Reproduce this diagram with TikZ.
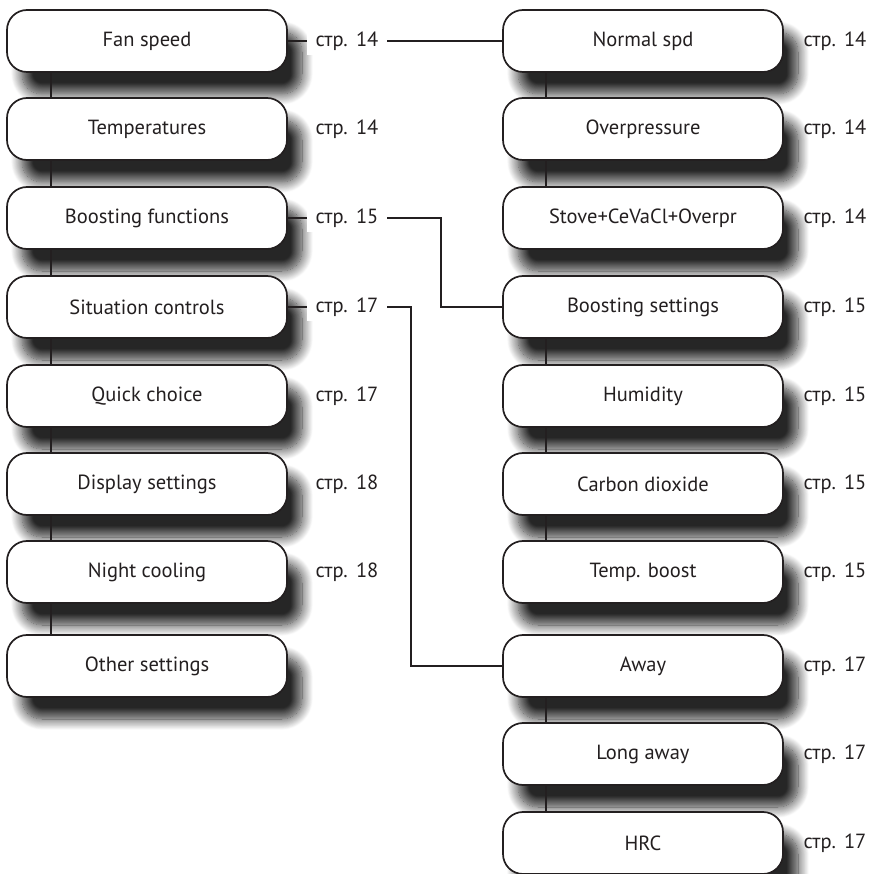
\documentclass[tikz,border=0pt]{standalone}
\usepackage{fontspec}
\setmainfont{PT Sans}
\usetikzlibrary{shadows.blur}
\definecolor{ink}{HTML}{231F20}
\tikzset{
  menubox/.style={rectangle, rounded corners=20pt, draw=ink, line width=1.7pt,
    fill=white, minimum width=280pt, minimum height=62pt, inner sep=0pt,
    font=\fontsize{20.5}{22}\selectfont, text=ink,
    blur shadow={shadow xshift=15pt, shadow yshift=-22pt, shadow blur radius=11pt,
      shadow opacity=85, shadow blur steps=16}},
  link/.style={draw=ink, line width=1.6pt},
  pageref/.style={font=\fontsize{20.5}{22}\selectfont, text=ink, inner sep=0pt,
    minimum height=28pt, minimum width=80pt},
  pagecut/.style={pageref, fill=white}
}
\newcommand{\pg}[1]{стр.\hspace{0.4em}#1}
\begin{document}
\begin{tikzpicture}[x=1pt,y=-1pt]
\useasboundingbox (0,0) rectangle (876,874);

% left column: main menu
\node[menubox] (fan)  at (147,41)  {Fan speed};
\node[menubox] (temp) at (147,129) {Temperatures};
\node[menubox] (bfun) at (147,218) {Boosting functions};
\node[menubox] (sitc) at (147,307) {Situation controls};
\node[menubox] (quick) at (147,396) {Quick choice};
\node[menubox] (disp) at (147,484) {Display settings};
\node[menubox] (night) at (147,572) {Night cooling};
\node[menubox] (other) at (147,666) {Other settings};

% right column: submenus
\node[menubox] (norm) at (643,41)  {Normal spd};
\node[menubox] (overp) at (643,129) {Overpressure};
\node[menubox] (stove) at (643,218) {Stove+CeVaCl+Overpr};
\node[menubox] (bset) at (643,307) {Boosting settings};
\node[menubox] (hum)  at (643,396) {Humidity};
\node[menubox] (co2)  at (643,484) {Carbon dioxide};
\node[menubox] (tboost) at (643,572) {Temp. boost};
\node[menubox] (away) at (643,666) {Away};
\node[menubox] (laway) at (643,754) {Long away};
\node[menubox] (hrc)  at (643,843) {HRC};

% vertical chains
\foreach \a/\b in {fan/temp,temp/bfun,bfun/sitc,sitc/quick,quick/disp,disp/night,night/other}
  \draw[link] ([xshift=-96pt]\a.south) -- ([xshift=-96pt]\b.north);
\foreach \a/\b in {norm/overp,overp/stove,bset/hum,hum/co2,co2/tboost,away/laway,laway/hrc}
  \draw[link] ([xshift=-97pt]\a.south) -- ([xshift=-97pt]\b.north);

% cross links between the columns
\draw[link] (fan.east) -- (norm.west);
\draw[link] (bfun.east) -- ++(153,0) |- (bset.west);
\draw[link] (sitc.east) -- ++(123,0) |- (away.west);

% page references, left
\node[pagecut] (p1) at (347,41)  {\pg{14}};
\node[pageref] (p2) at (347,129) {\pg{14}};
\node[pagecut] (p3) at (347,218) {\pg{15}};
\node[pagecut] (p4) at (347,307) {\pg{17}};
\node[pageref] (p5) at (347,396) {\pg{17}};
\node[pageref] (p6) at (347,484) {\pg{18}};
\node[pageref] (p7) at (347,572) {\pg{18}};

% page references, right
\foreach \n/\y/\p in {q1/41/14,q2/129/14,q3/218/14,q4/307/15,q5/396/15,q6/484/15,q7/572/15,q8/666/17,q9/754/17,q10/843/17}
  \node[pageref] (\n) at (835,\y) {\pg{\p}};
\end{tikzpicture}
\end{document}
